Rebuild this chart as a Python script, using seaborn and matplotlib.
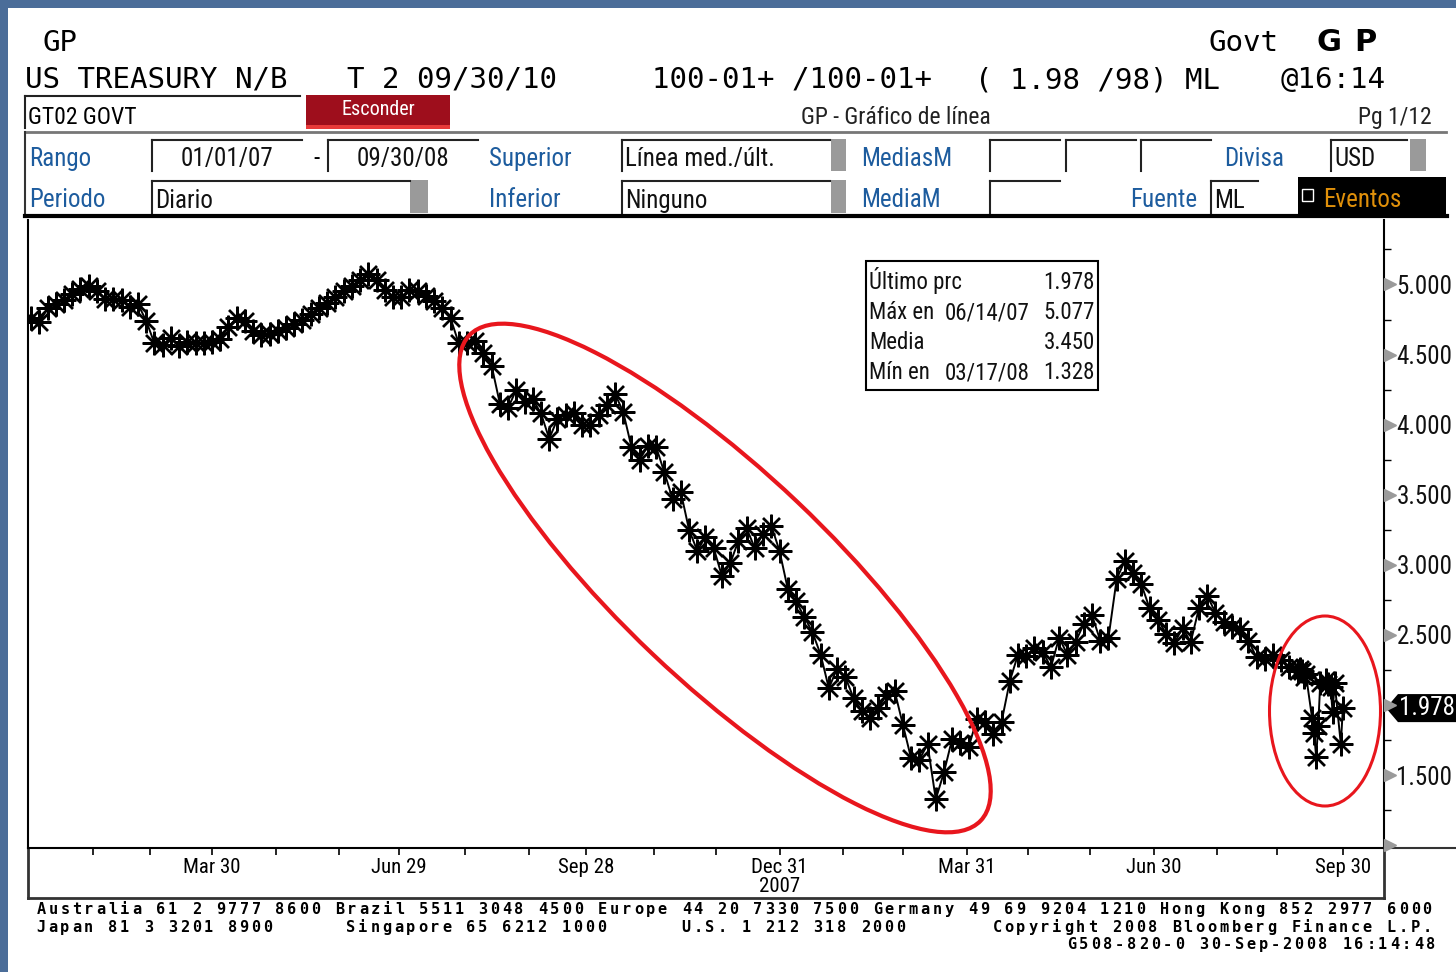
import numpy as np
import pandas as pd
import seaborn as sns
import matplotlib
matplotlib.use('Agg')
import matplotlib.pyplot as plt
import matplotlib.dates as mdates
from matplotlib import font_manager
from matplotlib.patches import Rectangle, Ellipse, Polygon
from matplotlib.transforms import blended_transform_factory

# --- data -----------------------------------------------------------------
# 2-yr treasury yield, one reading every 4 days from 01/01/07 to 09/08/08
yld_4d = [
    4.76, 4.73, 4.83, 4.86, 4.89, 4.93, 4.97, 4.99, 4.95, 4.90,
    4.90, 4.89, 4.84, 4.86, 4.74, 4.58, 4.57, 4.62, 4.56, 4.59,
    4.58, 4.58, 4.59, 4.61, 4.70, 4.76, 4.74, 4.67, 4.64, 4.65,
    4.67, 4.69, 4.72, 4.75, 4.79, 4.83, 4.87, 4.91, 4.95, 4.99,
    5.03, 5.077, 5.03, 4.96, 4.91, 4.91, 4.96, 4.95, 4.92, 4.88,
    4.83, 4.76, 4.58, 4.58, 4.60, 4.51, 4.42, 4.15, 4.12, 4.25,
    4.16, 4.18, 4.08, 3.90, 4.04, 4.07, 4.08, 4.00, 4.00, 4.07,
    4.14, 4.22, 4.09, 3.84, 3.75, 3.85, 3.84, 3.66, 3.47, 3.52,
    3.25, 3.10, 3.20, 3.12, 2.92, 3.01, 3.17, 3.26, 3.12, 3.22,
    3.28, 3.10, 2.83, 2.74, 2.63, 2.52, 2.36, 2.12, 2.26, 2.20,
    2.05, 1.96, 1.91, 1.98, 2.07, 2.10, 1.86, 1.62, 1.61, 1.72,
    1.328, 1.52, 1.76, 1.73, 1.70, 1.90, 1.88, 1.79, 1.88, 2.17,
    2.36, 2.35, 2.41, 2.38, 2.27, 2.48, 2.36, 2.45, 2.58, 2.64,
    2.46, 2.48, 2.90, 3.03, 2.94, 2.86, 2.69, 2.61, 2.51, 2.44,
    2.55, 2.45, 2.69, 2.78, 2.66, 2.59, 2.56, 2.54, 2.46, 2.34,
    2.33, 2.36, 2.32, 2.27, 2.24,
]
# daily closes 09/09/08 - 09/30/08
yld_sep = [2.26, 2.24, 2.20, 2.22, 1.91, 1.80, 1.63, 1.85, 2.16, 2.18,
           2.15, 2.13, 1.95, 2.16, 1.72, 1.978]

qtr_ticks = ['2007-03-30', '2007-06-29', '2007-09-28', '2007-12-31',
             '2008-03-31', '2008-06-30', '2008-09-30']
qtr_labels = ['Mar 30', 'Jun 29', 'Sep 28', 'Dec 31\n2007',
              'Mar 31', 'Jun 30', 'Sep 30']
month_ticks = ['2007-01-31', '2007-02-28', '2007-04-30', '2007-05-31',
               '2007-07-31', '2007-08-31', '2007-10-31', '2007-11-30',
               '2008-01-31', '2008-02-29', '2008-04-30', '2008-05-30',
               '2008-07-31', '2008-08-29']
y_major = [1.0, 1.5, 2.0, 2.5, 3.0, 3.5, 4.0, 4.5, 5.0]
y_minor = [1.25, 1.75, 2.25, 2.75, 3.25, 3.75, 4.25, 4.75, 5.25]

stat_names = ['Último prc', 'Máx en', 'Media', 'Mín en']
stat_dates = ['', '06/14/07', '', '03/17/08']
stat_vals = [1.978, 5.077, 3.450, 1.328]
last_val = 1.978

dates = pd.date_range('2007-01-01', periods=len(yld_4d), freq='4D').append(
    pd.bdate_range('2008-09-09', '2008-09-30'))
df = pd.DataFrame({'fecha': dates, 'rend': yld_4d + yld_sep})

# --- fonts: a narrow face if one is installed ------------------------------
NARROW, STRETCH, NS = 'DejaVu Sans', 'normal', 0.78
_fonts = [(f.name, str(f.stretch)) for f in font_manager.fontManager.ttflist]
for fam, need_cond in [('Liberation Sans Narrow', False), ('Roboto Condensed', False),
                       ('Open Sans Condensed', False), ('Noto Sans', True),
                       ('DejaVu Sans', True), ('Roboto', True), ('Open Sans', True)]:
    hit = [s for n, s in _fonts if n == fam and (not need_cond or 'condensed' in s)]
    if hit:
        NARROW, STRETCH, NS = fam, (hit[0] if need_cond else 'normal'), 1.0
        break
MONO = 'DejaVu Sans Mono'
plt.rcParams['font.family'] = [NARROW, 'DejaVu Sans']
plt.rcParams['font.stretch'] = STRETCH

BLUE = '#1d5c9e'
RED = '#e8161d'

W, H = 1456, 972
fig = plt.figure(figsize=(W / 100, H / 100), dpi=100, facecolor='#4b6d99')

# background / terminal panel, pixel coords
bg = fig.add_axes([0, 0, 1, 1], zorder=0)
bg.set_xlim(0, W)
bg.set_ylim(H, 0)
bg.axis('off')
bg.add_patch(Rectangle((8, 8), W - 8, H - 8, facecolor='white', edgecolor='none'))

# header
bg.text(42, 51, 'GP', family=MONO, fontsize=21)
bg.text(1208, 51, 'Govt', family=MONO, fontsize=21)
bg.text(1317, 51, 'G', family='DejaVu Sans', weight='bold', fontsize=22)
bg.text(1354, 51, 'P', family='DejaVu Sans', weight='bold', fontsize=22)
for x, s in [(25, 'US TREASURY N/B'), (347, 'T 2 09/30/10'),
             (652, '100-01+ /100-01+'), (975, '( 1.98 /98) ML'),
             (1281, '@16:14')]:
    bg.text(x, 88, s, family=MONO, fontsize=21)

# row with security + button
bg.plot([25, 300], [96, 96], color='#222', lw=1.5)
bg.plot([25, 25], [96, 128], color='#222', lw=1.5)
bg.text(28, 124, 'GT02 GOVT', fontsize=17 * NS)
bg.add_patch(Rectangle((306, 95), 144, 33, facecolor='#9e0e1c', edgecolor='none'))
bg.add_patch(Rectangle((306, 125), 144, 4, facecolor='#e83a3a', edgecolor='none'))
bg.text(378, 115, 'Esconder', color='white', ha='center', fontsize=14.5 * NS)
bg.text(896, 124, 'GP - Gráfico de línea', ha='center', color='#222', fontsize=17 * NS)
bg.text(1432, 124, 'Pg 1/12', ha='right', color='#222', fontsize=17 * NS)

bg.plot([25, 1446], [132, 132], color='#777', lw=2)
bg.plot([25, 25], [132, 216], color='#333', lw=1.5)
bg.plot([25, 1447], [216, 216], color='black', lw=3)


def field(x0, x1, y0, y1, text=None, center=False):
    bg.add_patch(Rectangle((x0, y0), x1 - x0, y1 - y0, facecolor='white', edgecolor='none'))
    bg.plot([x0, x1], [y0, y0], color='#222', lw=1.5)
    bg.plot([x0, x0], [y0, y1], color='#222', lw=1.5)
    if text:
        if center:
            bg.text((x0 + x1) / 2, y1 - 5, text, ha='center', fontsize=18 * NS, color='#111')
        else:
            bg.text(x0 + 3, y1 - 5, text, fontsize=18 * NS, color='#111')


def gray_btn(x0, x1, y0, y1):
    bg.add_patch(Rectangle((x0, y0), x1 - x0, y1 - y0, facecolor='#9a9a9a', edgecolor='none'))


# row 1
for x, s in [(29, 'Rango'), (489, 'Superior'), (861, 'MediasM')]:
    bg.text(x, 166, s, color=BLUE, fontsize=18 * NS)
bg.text(1284, 166, 'Divisa', color=BLUE, ha='right', fontsize=18 * NS)
field(152, 302, 140, 171, '01/01/07', center=True)
bg.text(316, 166, '-', ha='center', fontsize=18 * NS)
field(328, 478, 140, 171, '09/30/08', center=True)
field(622, 830, 140, 171, 'Línea med./últ.')
gray_btn(831, 846, 139, 171)
field(990, 1060, 140, 171)
field(1066, 1136, 140, 171)
field(1141, 1211, 140, 171)
field(1331, 1407, 140, 171, 'USD')
gray_btn(1410, 1426, 139, 171)

# row 2
for x, s in [(29, 'Periodo'), (489, 'Inferior'), (861, 'MediaM')]:
    bg.text(x, 207, s, color=BLUE, fontsize=18 * NS)
bg.text(1197, 207, 'Fuente', color=BLUE, ha='right', fontsize=18 * NS)
field(152, 410, 181, 213, 'Diario')
gray_btn(410, 428, 180, 213)
field(622, 830, 181, 213, 'Ninguno')
gray_btn(831, 846, 180, 213)
field(990, 1060, 181, 213)
field(1211, 1258, 181, 213, 'ML')
bg.add_patch(Rectangle((1298, 177), 148, 37, facecolor='black', edgecolor='none'))
bg.add_patch(Rectangle((1302, 189), 11, 12, facecolor='black', edgecolor='white', lw=1))
bg.text(1323, 207, 'Eventos', color='#e0900a', fontsize=18 * NS)

# date strip frame below the chart
bg.plot([28, 1384], [898, 898], color='#333', lw=2)
bg.plot([28, 28], [848, 898], color='#333', lw=2)
bg.plot([1384, 1384], [848, 898], color='#333', lw=2)
bg.plot([1384, 1456], [848, 848], color='#333', lw=1.5)

# footer, fixed pitch
PITCH = 11.95
footer = [(35, 914, 'Australia 61 2 9777 8600 Brazil 5511 3048 4500 Europe 44 20 7330 7500 '
                   'Germany 49 69 9204 1210 Hong Kong 852 2977 6000'),
          (35, 932, 'Japan 81 3 3201 8900'),
          (345, 932, 'Singapore 65 6212 1000'),
          (680, 932, 'U.S. 1 212 318 2000'),
          (991, 932, 'Copyright 2008 Bloomberg Finance L.P.'),
          (1066, 949, 'G508-820-0 30-Sep-2008 16:14:48')]
for x0, y0, s in footer:
    for i, ch in enumerate(s):
        if ch != ' ':
            bg.text(x0 + (i + 0.5) * PITCH, y0, ch, ha='center', family=MONO,
                    weight='bold', fontsize=11)

# --- chart ----------------------------------------------------------------
ax = fig.add_axes([28 / W, 1 - 848 / H, 1356 / W, 628 / H], zorder=1)
sns.lineplot(data=df, x='fecha', y='rend', ax=ax, color='black', linewidth=1.4,
             marker=(8, 2, 0), markersize=17, markeredgewidth=1.7,
             markeredgecolor='black')
ax.set_xlabel('')
ax.set_ylabel('')
ax.set_facecolor('white')

ax.set_xlim(mdates.date2num(pd.Timestamp('2006-12-30 12:00')),
            mdates.date2num(pd.Timestamp('2008-10-20')))
ax.set_xticks(mdates.date2num(pd.to_datetime(qtr_ticks)))
ax.set_xticklabels(qtr_labels, fontsize=15 * NS)
for t in ax.get_xticklabels():
    t.set_linespacing(1.0)
ax.set_xticks(mdates.date2num(pd.to_datetime(month_ticks)), minor=True)
ax.tick_params(axis='x', which='both', length=5, width=1.2, color='black',
               direction='out', pad=2)

ax.set_ylim(0.98, 5.46)
ax.yaxis.tick_right()
ax.set_yticks(y_major)
ax.set_yticklabels(['' if v in (1.0, 2.0) else f'{v:.3f}' for v in y_major],
                   fontsize=18 * NS, color='#111')
ax.set_yticks(y_minor, minor=True)
ax.tick_params(axis='y', which='major', length=0, pad=9)
ax.tick_params(axis='y', which='minor', length=5, width=1, color='black', direction='out')

for side in ['left', 'right', 'bottom']:
    ax.spines[side].set_color('black')
    ax.spines[side].set_linewidth(1.5)
ax.spines['top'].set_visible(False)

yx = blended_transform_factory(ax.transAxes, ax.transData)
ax.plot([1.0044] * len(y_major), y_major, linestyle='none', marker='>', ms=9,
        color='#9a9a9a', transform=yx, clip_on=False, zorder=5)

# last value tag
tag = Polygon([(1.0015, last_val), (1.0103, last_val + 0.1), (1.0531, last_val + 0.1),
               (1.0531, last_val - 0.1), (1.0103, last_val - 0.1)],
              closed=True, facecolor='black', edgecolor='none', transform=yx, clip_on=False)
ax.add_patch(tag)
ax.text(1.0317, last_val, f'{last_val:.3f}', color='white', ha='center', va='center',
        fontsize=18 * NS, transform=yx, clip_on=False)

# --- overlay: stats box and red marks -------------------------------------
fg = fig.add_axes([0, 0, 1, 1], zorder=3)
fg.set_xlim(0, W)
fg.set_ylim(H, 0)
fg.axis('off')
fg.add_patch(Rectangle((866, 261), 232, 129, facecolor='white', edgecolor='black', lw=1.5))
for i, (n, d, v) in enumerate(zip(stat_names, stat_dates, stat_vals)):
    yb = 289 + i * 30
    fg.text(869, yb, n, fontsize=16.5 * NS, color='#111')
    fg.text(945, yb, d, fontsize=16.5 * NS, color='#111')
    fg.text(1095, yb, f'{v:.3f}', ha='right', fontsize=16.5 * NS, color='#111')

fg.add_patch(Ellipse((725, 578), 705, 210, angle=43.5, facecolor='none',
                     edgecolor=RED, lw=3))
fg.add_patch(Ellipse((1325, 711), 111, 190, angle=0, facecolor='none',
                     edgecolor=RED, lw=2.2))

fig.savefig('out.png', dpi=100, facecolor=fig.get_facecolor())
